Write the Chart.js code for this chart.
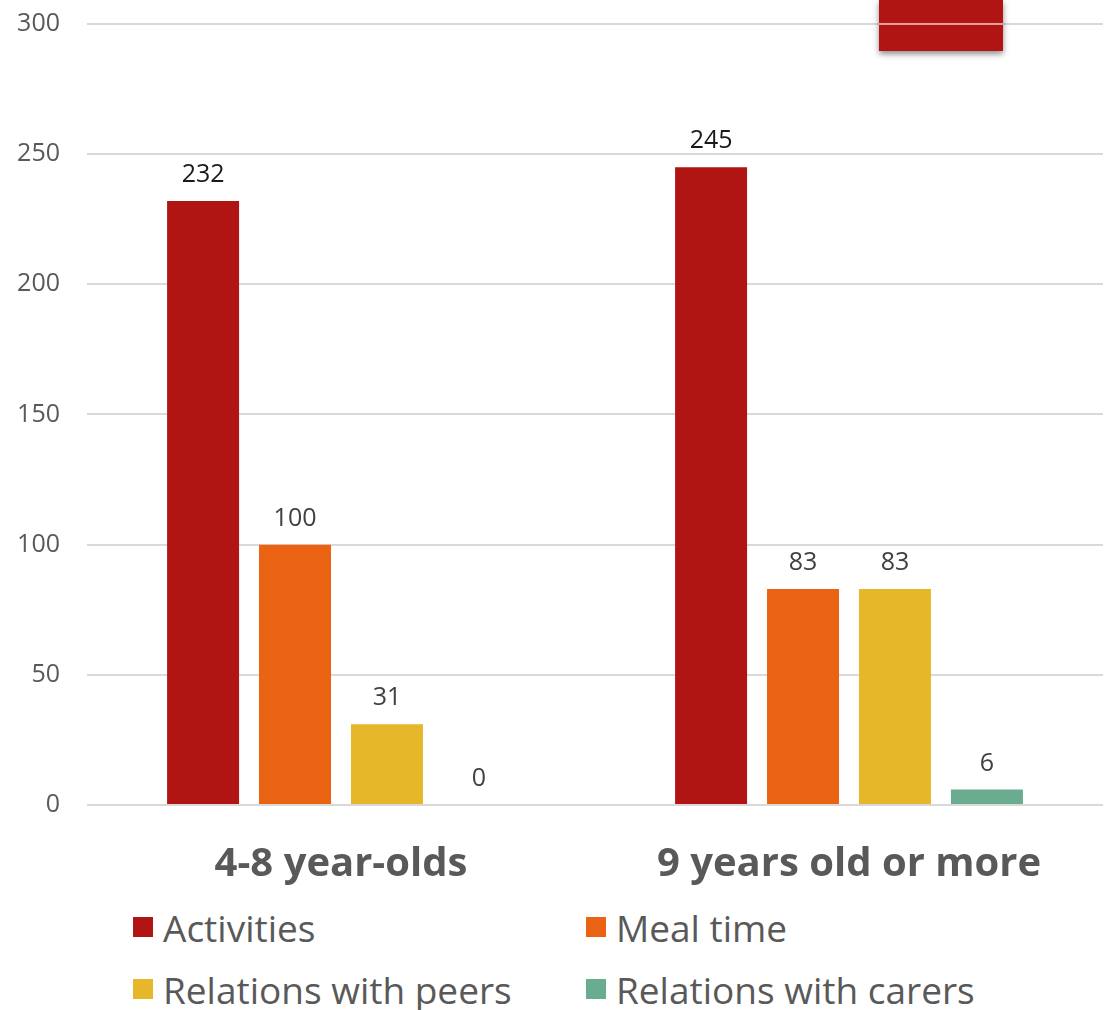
<!DOCTYPE html>
<html>
<head>
<meta charset="utf-8">
<script src="https://cdn.jsdelivr.net/npm/chart.js@4.4.1/dist/chart.umd.min.js"></script>
<style>
  html, body { margin: 0; padding: 0; background: #fff; }
  #wrap { position: relative; width: 1107px; height: 1010px; overflow: hidden; }
  #chart-box { position: absolute; left: 0; top: 0; width: 1107px; height: 890px; }
  #legend {
    position: absolute; left: 0; top: 904px; width: 1107px;
    display: grid; grid-template-columns: 453px 520px;
    padding-left: 133px; row-gap: 16px;
    font-family: "Open Sans", sans-serif; font-size: 37px; color: #595959;
  }
  .item { display: flex; align-items: center; height: 46px; }
  .swatch { width: 20px; height: 20px; margin-right: 10px; }
</style>
</head>
<body>
<div id="wrap">
  <div id="chart-box"><canvas id="chartCanvas"></canvas></div>
  <div id="legend"></div>
</div>
<script>
const categories = ["4-8 year-olds", "9 years old or more"];
const seriesNames = ["Activities", "Meal time", "Relations with peers", "Relations with carers"];
const activities = [232, 245];
const mealTime = [100, 83];
const peers = [31, 83];
const carers = [0, 6];
const yTicks = [0, 50, 100, 150, 200, 250, 300];

const colors = ["#B01513", "#EA6312", "#E6B729", "#6AAC90"];
const labelColors = ["#1a1a1a", "#404040", "#404040", "#404040"];

// value labels above each bar
const barLabels = {
    id: "barLabels",
    afterDatasetsDraw(chart) {
        const ctx = chart.ctx;
        ctx.save();
        ctx.font = "25px 'Open Sans', sans-serif";
        ctx.textAlign = "center";
        ctx.textBaseline = "middle";
        chart.data.datasets.forEach((ds, i) => {
            const meta = chart.getDatasetMeta(i);
            meta.data.forEach((bar, j) => {
                ctx.fillStyle = labelColors[i];
                ctx.fillText(ds.data[j], bar.x, bar.y - 26);
            });
        });
        ctx.restore();
    }
};

// red block with a soft shadow hanging over the top right corner
const cornerBlock = {
    id: "cornerBlock",
    afterDraw(chart) {
        const ctx = chart.ctx;
        const area = chart.chartArea;
        ctx.save();
        ctx.shadowColor = "rgba(0,0,0,0.45)";
        ctx.shadowBlur = 6;
        ctx.shadowOffsetY = 3;
        ctx.fillStyle = colors[0];
        ctx.fillRect(area.left + 792, 0, 124, 51);
        ctx.restore();
        ctx.save();
        ctx.fillStyle = "rgba(255,255,255,0.6)";
        const y300 = chart.scales.y.getPixelForValue(300);
        ctx.fillRect(area.left + 792, y300 - 1, 124, 2);
        ctx.restore();
    }
};

const seriesData = [activities, mealTime, peers, carers];

const ctx = document.getElementById("chartCanvas").getContext("2d");
const chart = new Chart(ctx, {
    type: "bar",
    data: {
        labels: categories,
        datasets: seriesNames.map((name, i) => ({
            label: name,
            data: seriesData[i],
            backgroundColor: colors[i],
            borderWidth: 0,
            categoryPercentage: 0.724,
            barPercentage: 0.783
        }))
    },
    options: {
        responsive: true,
        maintainAspectRatio: false,
        animation: false,
        layout: { padding: { top: 0, right: 4, bottom: 0, left: 0 } },
        plugins: {
            legend: { display: false },
            tooltip: { enabled: false }
        },
        scales: {
            x: {
                afterFit(scale) {
                    scale.height = 85;
                },
                grid: { display: false },
                border: { display: false },
                ticks: {
                    color: "#595959",
                    padding: 28,
                    font: { family: "'Open Sans', sans-serif", size: 40, weight: "bold" }
                }
            },
            y: {
                min: 0,
                max: 309.2,
                afterBuildTicks(scale) {
                    scale.ticks = yTicks.map(v => ({ value: v }));
                },
                afterFit(scale) {
                    scale.width = 87;
                    scale.paddingTop = 0;
                    scale.paddingBottom = 0;
                },
                grid: { color: "#D9D9D9", lineWidth: 2, drawTicks: false },
                border: { display: false },
                ticks: {
                    color: "#595959",
                    padding: 27,
                    font: { family: "'Open Sans', sans-serif", size: 25 }
                }
            }
        }
    },
    plugins: [barLabels, cornerBlock]
});

// legend laid out as a two-column grid
const legend = document.getElementById("legend");
seriesNames.forEach((name, i) => {
    const item = document.createElement("div");
    item.className = "item";
    const sw = document.createElement("span");
    sw.className = "swatch";
    sw.style.background = colors[i];
    const txt = document.createElement("span");
    txt.textContent = name;
    item.appendChild(sw);
    item.appendChild(txt);
    legend.appendChild(item);
});
</script>
</body>
</html>
